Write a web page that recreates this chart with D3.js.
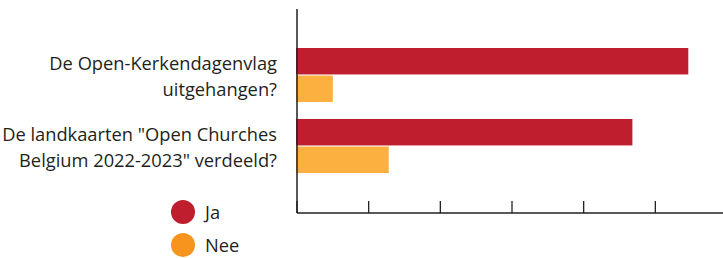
<!DOCTYPE html>
<html>
<head>
<meta charset="utf-8">
<script src="https://cdn.jsdelivr.net/npm/d3@7"></script>
<style>
  body { margin: 0; background: #fff; }
  text { font-family: "Open Sans", "Noto Sans", sans-serif; fill: #231f20; }
</style>
</head>
<body>
<svg id="chart" width="723" height="258"></svg>
<script>
// data
var categories = [
  ["De Open-Kerkendagenvlag", "uitgehangen?"],
  ["De landkaarten \"Open Churches", "Belgium 2022-2023\" verdeeld?"]
];
var series = ["Ja", "Nee"];
var valuesJa = [54.6, 46.8];
var valuesNee = [5.0, 12.8];
var xTicks = [0, 10, 20, 30, 40, 50];

var barColors = { "Ja": "#be1e2d", "Nee": "#fbb040" };
var dotColors = { "Ja": "#be1e2d", "Nee": "#f7941d" };

var svg = d3.select("#chart");

var x = d3.scaleLinear().domain([0, 60]).range([297, 727]);
var y0 = d3.scaleBand().domain(d3.range(categories.length)).range([39.5, 181.5]);
var y1 = d3.scaleBand().domain(series).range([8.5, 62.5]).paddingInner(0.04);

var rows = categories.map(function(c, i){
  return { i: i, label: c, Ja: valuesJa[i], Nee: valuesNee[i] };
});

// bars
var g = svg.selectAll(".grp").data(rows).enter().append("g")
  .attr("class", "grp")
  .attr("transform", function(d){ return "translate(0," + y0(d.i) + ")"; });

g.selectAll("rect").data(function(d){
    return series.map(function(s){ return { s: s, v: d[s] }; });
  }).enter().append("rect")
  .attr("x", x(0) - 1)
  .attr("y", function(d){ return y1(d.s); })
  .attr("width", function(d){ return x(d.v) - x(0) + 1; })
  .attr("height", y1.bandwidth())
  .attr("fill", function(d){ return barColors[d.s]; });

// category labels
g.append("text")
  .attr("text-anchor", "end")
  .attr("font-size", 18.3)
  .selectAll("tspan").data(function(d){ return d.label; }).enter().append("tspan")
  .attr("x", 277)
  .attr("y", function(d, i){ return y0.bandwidth() / 2 - 5 + i * 26; })
  .text(function(d){ return d; });

// axes
var base = 213;
svg.append("line")
  .attr("x1", x(0)).attr("x2", 723).attr("y1", base).attr("y2", base)
  .attr("stroke", "#231f20").attr("stroke-width", 1.5);
svg.append("line")
  .attr("x1", x(0)).attr("x2", x(0)).attr("y1", 9).attr("y2", base)
  .attr("stroke", "#231f20").attr("stroke-width", 1.5);

svg.selectAll(".tick").data(xTicks).enter().append("line")
  .attr("class", "tick")
  .attr("x1", function(d){ return x(d); })
  .attr("x2", function(d){ return x(d); })
  .attr("y1", base - 12).attr("y2", base)
  .attr("stroke", "#231f20").attr("stroke-width", 1.3);

// legend
var leg = svg.selectAll(".leg").data(series).enter().append("g")
  .attr("class", "leg")
  .attr("transform", function(d, i){ return "translate(183," + (212 + i * 33) + ")"; });
leg.append("circle").attr("r", 12).attr("fill", function(d){ return dotColors[d]; });
leg.append("text").attr("x", 22).attr("dy", "0.36em").attr("font-size", 18.3)
  .text(function(d){ return d; });
</script>
</body>
</html>
